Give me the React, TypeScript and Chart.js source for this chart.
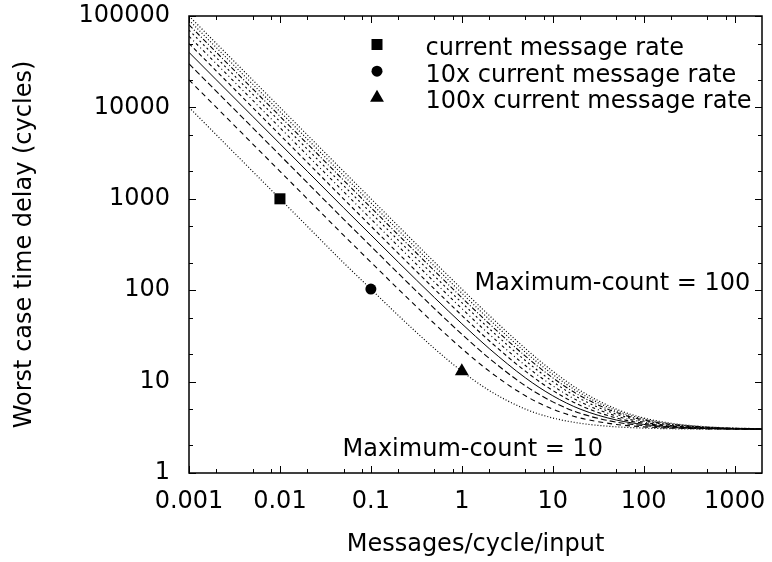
import React, { useEffect, useRef } from "react";
import { Chart, registerables } from "chart.js";

Chart.register(...registerables);

// ---------- data ----------
const RATES = [0.001, 0.002, 0.005, 0.01, 0.02, 0.05, 0.1, 0.2, 0.5, 1, 2, 5, 10, 20, 50, 100, 200, 500, 1000, 2000];
const MAX_COUNTS = [10, 20, 30, 40, 50, 60, 70, 80, 90, 100];

const DELAY_10 = [10000, 5000, 2000, 1000, 500, 200, 103, 53, 23, 13, 8, 5, 4, 3.5, 3.2, 3.1, 3.05, 3.02, 3.01, 3.0];
const DELAY_20 = [20000, 10000, 4000, 2000, 1000, 400, 203, 103, 43, 23, 13, 7, 5, 4, 3.4, 3.2, 3.1, 3.04, 3.02, 3.01];
const DELAY_30 = [30000, 15000, 6000, 3000, 1500, 600, 303, 153, 63, 33, 18, 9, 6, 4.5, 3.6, 3.3, 3.15, 3.06, 3.03, 3.02];
const DELAY_40 = [40000, 20000, 8000, 4000, 2000, 800, 403, 203, 83, 43, 23, 11, 7, 5, 3.8, 3.4, 3.2, 3.08, 3.04, 3.02];
const DELAY_50 = [50000, 25000, 10000, 5000, 2500, 1000, 503, 253, 103, 53, 28, 13, 8, 5.5, 4, 3.5, 3.25, 3.1, 3.05, 3.03];
const DELAY_60 = [60000, 30000, 12000, 6000, 3000, 1200, 603, 303, 123, 63, 33, 15, 9, 6, 4.2, 3.6, 3.3, 3.12, 3.06, 3.03];
const DELAY_70 = [70000, 35000, 14000, 7000, 3500, 1400, 703, 353, 143, 73, 38, 17, 10, 6.5, 4.4, 3.7, 3.35, 3.14, 3.07, 3.04];
const DELAY_80 = [80000, 40000, 16000, 8000, 4000, 1600, 803, 403, 163, 83, 43, 19, 11, 7, 4.6, 3.8, 3.4, 3.16, 3.08, 3.04];
const DELAY_90 = [90000, 45000, 18000, 9000, 4500, 1800, 903, 453, 183, 93, 48, 21, 12, 7.5, 4.8, 3.9, 3.45, 3.18, 3.09, 3.05];
const DELAY_100 = [100000, 50000, 20000, 10000, 5000, 2000, 1003, 503, 203, 103, 53, 23, 13, 8, 5, 4, 3.5, 3.2, 3.1, 3.05];
const SERIES = [DELAY_10, DELAY_20, DELAY_30, DELAY_40, DELAY_50, DELAY_60, DELAY_70, DELAY_80, DELAY_90, DELAY_100];

const MARK_RATES = [0.01, 0.1, 1];
const MARK_DELAYS = [1000, 103, 13];
const MARK_LABELS = ["current message rate", "10x current message rate", "100x current message rate"];

const X_TICKS = [0.001, 0.01, 0.1, 1, 10, 100, 1000];
const X_TICK_LABELS = ["0.001", "0.01", "0.1", "1", "10", "100", "1000"];
const Y_TICKS = [1, 10, 100, 1000, 10000, 100000];
const Y_TICK_LABELS = ["1", "10", "100", "1000", "10000", "100000"];

const X_TITLE = "Messages/cycle/input";
const Y_TITLE = "Worst case time delay (cycles)";
const NOTE_HIGH = "Maximum-count = 100";
const NOTE_LOW = "Maximum-count = 10";

// ---------- style ----------
const FONT_FAMILY = "'DejaVu Sans', sans-serif";
const FONT_SIZE = 24;
const DASHES: number[][] = [[1, 2], [5, 4], [6, 3], [], [4, 3], [3, 3, 1, 3], [2, 3], [5, 2, 1, 2], [1, 2], [1, 2]];
const WIDTHS = [1.2, 1.1, 1.1, 1, 1.1, 1.1, 1.1, 1.1, 1.2, 1.2];
const MARK_STYLES = ["rect", "circle", "triangle"];
const MARK_RADII = [7.8, 5.5, 8];
const X_MINOR = [2, 5, 8];
const Y_MINOR = [2, 5];

function labelFor(ticks: number[], labels: string[], v: number) {
  const i = ticks.findIndex((t) => Math.abs(Math.log10(t) - Math.log10(v)) < 1e-6);
  return i >= 0 ? labels[i] : "";
}

function drawShape(ctx: CanvasRenderingContext2D, style: string, x: number, y: number) {
  ctx.beginPath();
  if (style === "rect") {
    ctx.rect(x - 5.5, y - 5.5, 11, 11);
  } else if (style === "circle") {
    ctx.arc(x, y, 5.5, 0, Math.PI * 2);
  } else {
    const r = 8;
    ctx.moveTo(x, y - r);
    ctx.lineTo(x + r * Math.sin((2 * Math.PI) / 3), y - r * Math.cos((2 * Math.PI) / 3));
    ctx.lineTo(x - r * Math.sin((2 * Math.PI) / 3), y - r * Math.cos((2 * Math.PI) / 3));
    ctx.closePath();
  }
  ctx.fill();
}

const decorPlugin = {
  id: "decor",
  afterDraw(chart: any) {
    const ctx: CanvasRenderingContext2D = chart.ctx;
    const { left, right, top, bottom } = chart.chartArea;
    const xs = chart.scales.x;
    const ys = chart.scales.y;
    ctx.save();
    ctx.strokeStyle = "#000";
    ctx.fillStyle = "#000";
    ctx.lineWidth = 1;
    const xTick = (v: number, len: number) => {
      const px = Math.round(xs.getPixelForValue(v)) + 0.5;
      ctx.beginPath();
      ctx.moveTo(px, bottom);
      ctx.lineTo(px, bottom - len);
      ctx.moveTo(px, top);
      ctx.lineTo(px, top + len);
      ctx.stroke();
    };
    const yTick = (v: number, len: number) => {
      const py = Math.round(ys.getPixelForValue(v)) + 0.5;
      ctx.beginPath();
      ctx.moveTo(left, py);
      ctx.lineTo(left + len, py);
      ctx.moveTo(right, py);
      ctx.lineTo(right - len, py);
      ctx.stroke();
    };
    X_TICKS.forEach((t) => {
      xTick(t, 7);
      X_MINOR.forEach((m) => {
        if (t * m < xs.max) xTick(t * m, 4);
      });
    });
    Y_TICKS.forEach((t) => {
      yTick(t, 7);
      Y_MINOR.forEach((m) => {
        if (t * m < ys.max) yTick(t * m, 4);
      });
    });
    ctx.lineWidth = 1.5;
    ctx.strokeRect(left, top, right - left, bottom - top);

    ctx.font = `${FONT_SIZE}px ${FONT_FAMILY}`;
    ctx.textBaseline = "alphabetic";
    ctx.textAlign = "left";
    const baselines = [55, 81.7, 108.3];
    MARK_LABELS.forEach((lab, i) => {
      drawShape(ctx, MARK_STYLES[i], 377, baselines[i] - 10.5);
      ctx.fillText(lab, 425.5, baselines[i]);
    });
    ctx.fillText(NOTE_HIGH, 474.5, 290);
    ctx.fillText(NOTE_LOW, 342.5, 455.5);
    ctx.restore();
  },
};

export default function App() {
  const ref = useRef<HTMLCanvasElement>(null);
  useEffect(() => {
    const canvas = ref.current!;
    const font = { family: FONT_FAMILY, size: FONT_SIZE };
    const lineSets = SERIES.map((vals, i) => ({
      type: "line" as const,
      label: `Maximum-count = ${MAX_COUNTS[i]}`,
      data: RATES.map((r, j) => ({ x: r, y: vals[j] })),
      borderColor: "#000",
      borderWidth: WIDTHS[i],
      borderDash: DASHES[i],
      pointRadius: 0,
      fill: false,
      cubicInterpolationMode: "monotone" as const,
    }));
    const markSets = MARK_LABELS.map((lab, i) => ({
      type: "line" as const,
      label: lab,
      data: [{ x: MARK_RATES[i], y: MARK_DELAYS[i] }],
      showLine: false,
      pointStyle: MARK_STYLES[i] as any,
      pointRadius: MARK_RADII[i],
      pointBackgroundColor: "#000",
      pointBorderWidth: 0,
      borderColor: "#000",
    }));
    const chart = new Chart(canvas, {
      type: "line",
      data: { datasets: [...lineSets, ...markSets] as any },
      options: {
        animation: false,
        responsive: false,
        devicePixelRatio: 1,
        layout: { padding: { top: 16, right: 10, left: 0, bottom: 0 } },
        plugins: { legend: { display: false }, tooltip: { enabled: false } },
        scales: {
          x: {
            type: "logarithmic",
            min: 0.001,
            max: 2000,
            grid: { display: false, drawTicks: false },
            border: { display: false },
            ticks: {
              autoSkip: false,
              maxRotation: 0,
              minRotation: 0,
              padding: 14,
              color: "#000",
              font,
              callback: (v: any) => labelFor(X_TICKS, X_TICK_LABELS, Number(v)),
            },
            afterBuildTicks: (s: any) => {
              s.ticks = X_TICKS.map((v) => ({ value: v }));
            },
            afterFit: (s: any) => {
              s.height = 89;
              s.paddingLeft = 0;
              s.paddingRight = 0;
            },
            title: { display: true, text: X_TITLE, color: "#000", font, padding: { top: 0, bottom: 3 } },
          },
          y: {
            type: "logarithmic",
            min: 1,
            max: 100000,
            grid: { display: false, drawTicks: false },
            border: { display: false },
            ticks: {
              autoSkip: false,
              padding: 19,
              color: "#000",
              font,
              callback: (v: any) => labelFor(Y_TICKS, Y_TICK_LABELS, Number(v)),
            },
            afterBuildTicks: (s: any) => {
              s.ticks = Y_TICKS.map((v) => ({ value: v }));
            },
            afterFit: (s: any) => {
              s.width = 189;
              s.paddingTop = 0;
              s.paddingBottom = 0;
            },
            title: { display: true, text: Y_TITLE, color: "#000", font, padding: { top: 10, bottom: 0 } },
          },
        },
      },
      plugins: [decorPlugin],
    });
    return () => chart.destroy();
  }, []);
  return (
    <div style={{ position: "absolute", left: 0, top: 0, width: 772, height: 562, background: "#fff" }}>
      <canvas ref={ref} width={772} height={562} style={{ display: "block", width: 772, height: 562 }} />
    </div>
  );
}
